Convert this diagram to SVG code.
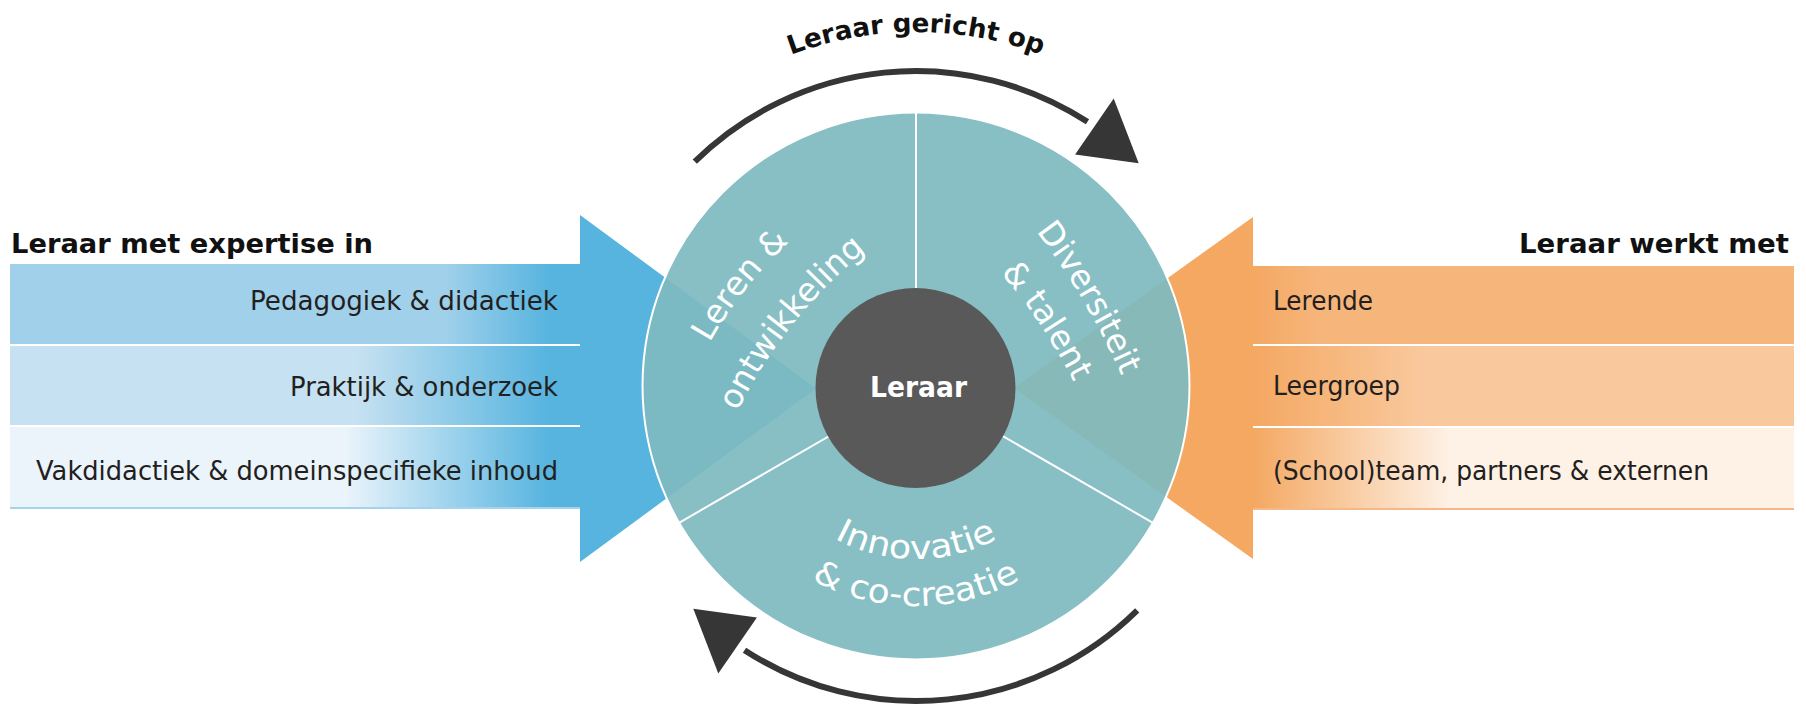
<svg xmlns="http://www.w3.org/2000/svg" xmlns:xlink="http://www.w3.org/1999/xlink" width="1806" height="707" viewBox="0 0 1806 707">
<style>
.lbl{font-family:"DejaVu Sans","Liberation Sans",sans-serif;font-size:26px;fill:#231f20}
.ttl{font-family:"DejaVu Sans","Liberation Sans",sans-serif;font-weight:bold;font-size:27px;fill:#111}
.seg{font-family:"DejaVu Sans","Liberation Sans",sans-serif;font-size:33px;fill:#fff}
.div{stroke:#fff;stroke-width:2}
.conn{fill:none;stroke:#363636;stroke-width:6}
.head{fill:#363636}
</style>
<defs>
<linearGradient id="gb1" gradientUnits="userSpaceOnUse" x1="10" y1="0" x2="580" y2="0"><stop offset="0.765" stop-color="#a0d0ea"/><stop offset="0.946" stop-color="#56b4df"/></linearGradient>
<linearGradient id="gb2" gradientUnits="userSpaceOnUse" x1="10" y1="0" x2="580" y2="0"><stop offset="0.609" stop-color="#c6e1f1"/><stop offset="0.946" stop-color="#56b4df"/></linearGradient>
<linearGradient id="gb3" gradientUnits="userSpaceOnUse" x1="10" y1="0" x2="580" y2="0"><stop offset="0.586" stop-color="#ebf4fb"/><stop offset="0.946" stop-color="#56b4df"/></linearGradient>
<linearGradient id="go1" gradientUnits="userSpaceOnUse" x1="1253" y1="0" x2="1794" y2="0"><stop offset="0" stop-color="#f4a862"/><stop offset="0.12" stop-color="#f6b57b"/></linearGradient>
<linearGradient id="go2" gradientUnits="userSpaceOnUse" x1="1253" y1="0" x2="1794" y2="0"><stop offset="0" stop-color="#f4a862"/><stop offset="0.31" stop-color="#f9c89c"/></linearGradient>
<linearGradient id="go3" gradientUnits="userSpaceOnUse" x1="1253" y1="0" x2="1794" y2="0"><stop offset="0" stop-color="#f4a862"/><stop offset="0.37" stop-color="#fef2e7"/></linearGradient>
<path id="pTop" d="M 562,386 A 354 354 0 0 1 1270,386"/>
<path id="pLeren" d="M 684.7,394.4 Q 731.6,278.5 833.7,206.2"/>
<path id="pOntw" d="M 717.8,455.9 Q 774.7,309.4 904.8,221.3"/>
<path id="pDiv" d="M 1006.7,195.3 Q 1093.7,294.8 1138.7,419.1"/>
<path id="pTal" d="M 970,239.7 Q 1049.5,318.8 1092.2,422.7"/>
<path id="pInn" d="M 743,386 A 173 173 0 0 0 1089,386"/>
<path id="pCo" d="M 696,386 A 220 220 0 0 0 1136,386"/>
</defs>
<rect width="1806" height="707" fill="#fff"/>

<g id="expertise">
<polygon points="580,215 816,388.5 580,562" fill="#56b4df"/>
<rect x="10" y="264" width="570" height="80" fill="url(#gb1)"/>
<rect x="10" y="346" width="570" height="79" fill="url(#gb2)"/>
<rect x="10" y="427" width="570" height="80" fill="url(#gb3)"/>
<rect x="10" y="507" width="570" height="2" fill="#a6d3ec"/>
<text class="ttl" x="11" y="253" textLength="362" lengthAdjust="spacingAndGlyphs">Leraar met expertise in</text>
<text class="lbl" x="558" y="310" text-anchor="end" textLength="308" lengthAdjust="spacingAndGlyphs">Pedagogiek &amp; didactiek</text>
<text class="lbl" x="558" y="396" text-anchor="end" textLength="268" lengthAdjust="spacingAndGlyphs">Praktijk &amp; onderzoek</text>
<text class="lbl" x="558" y="480" text-anchor="end" textLength="522" lengthAdjust="spacingAndGlyphs">Vakdidactiek &amp; domeinspecifieke inhoud</text>
</g>

<g id="werkt-met">
<polygon points="1253,217 1014,388 1253,559" fill="#f4a862"/>
<rect x="1253" y="266" width="541" height="78" fill="url(#go1)"/>
<rect x="1253" y="346" width="541" height="80" fill="url(#go2)"/>
<rect x="1253" y="428" width="541" height="80" fill="url(#go3)"/>
<rect x="1253" y="508" width="541" height="2" fill="#f6b888"/>
<text class="ttl" x="1789" y="253" text-anchor="end" textLength="270" lengthAdjust="spacingAndGlyphs">Leraar werkt met</text>
<text class="lbl" x="1273" y="310" textLength="100" lengthAdjust="spacingAndGlyphs">Lerende</text>
<text class="lbl" x="1273" y="395" textLength="127" lengthAdjust="spacingAndGlyphs">Leergroep</text>
<text class="lbl" x="1273" y="480" textLength="436" lengthAdjust="spacingAndGlyphs">(School)team, partners &amp; externen</text>
</g>

<g id="wheel">
<circle cx="916" cy="386" r="273.5" fill="#7ebabf" fill-opacity="0.93" stroke="#fff" stroke-width="2"/>
<line class="div" x1="916" y1="386" x2="916" y2="112.5"/>
<line class="div" x1="916" y1="386" x2="1152.9" y2="522.8"/>
<line class="div" x1="916" y1="386" x2="679.1" y2="522.8"/>
</g>

<g id="leren-ontwikkeling">
<text class="seg"><textPath xlink:href="#pLeren" href="#pLeren" startOffset="50%" text-anchor="middle" textLength="129" lengthAdjust="spacingAndGlyphs">Leren &amp;</textPath></text>
<text class="seg"><textPath xlink:href="#pOntw" href="#pOntw" startOffset="50%" text-anchor="middle" textLength="208" lengthAdjust="spacingAndGlyphs">ontwikkeling</textPath></text>
</g>

<g id="diversiteit-talent">
<text class="seg"><textPath xlink:href="#pDiv" href="#pDiv" startOffset="50%" text-anchor="middle" textLength="168" lengthAdjust="spacingAndGlyphs">Diversiteit</textPath></text>
<text class="seg"><textPath xlink:href="#pTal" href="#pTal" startOffset="50%" text-anchor="middle" textLength="132" lengthAdjust="spacingAndGlyphs">&amp; talent</textPath></text>
</g>

<g id="innovatie-cocreatie">
<text class="seg"><textPath xlink:href="#pInn" href="#pInn" startOffset="50%" text-anchor="middle" textLength="170" lengthAdjust="spacingAndGlyphs">Innovatie</textPath></text>
<text class="seg"><textPath xlink:href="#pCo" href="#pCo" startOffset="50%" text-anchor="middle" textLength="218" lengthAdjust="spacingAndGlyphs">&amp; co-creatie</textPath></text>
</g>

<g id="leraar">
<circle cx="915.5" cy="388" r="100" fill="#595959"/>
<text x="918.5" y="397" text-anchor="middle" font-family="DejaVu Sans, Liberation Sans, sans-serif" font-weight="bold" font-size="28" fill="#fff" textLength="97" lengthAdjust="spacingAndGlyphs">Leraar</text>
</g>

<g id="connectors">
<g id="arrow-top">
<path class="conn" d="M 694.8,161.7 A 315 315 0 0 1 1087.5,121.8"/>
<polygon class="head" points="1113.7,98.4 1138.7,163.3 1075.1,154.4"/>
</g>
<use xlink:href="#arrow-top" href="#arrow-top" transform="rotate(180 916 386)"/>
<text font-family="DejaVu Sans, Liberation Sans, sans-serif" font-weight="bold" font-size="26" fill="#111"><textPath xlink:href="#pTop" href="#pTop" startOffset="50%" text-anchor="middle" textLength="256" lengthAdjust="spacingAndGlyphs">Leraar gericht op</textPath></text>
</g>
</svg>
